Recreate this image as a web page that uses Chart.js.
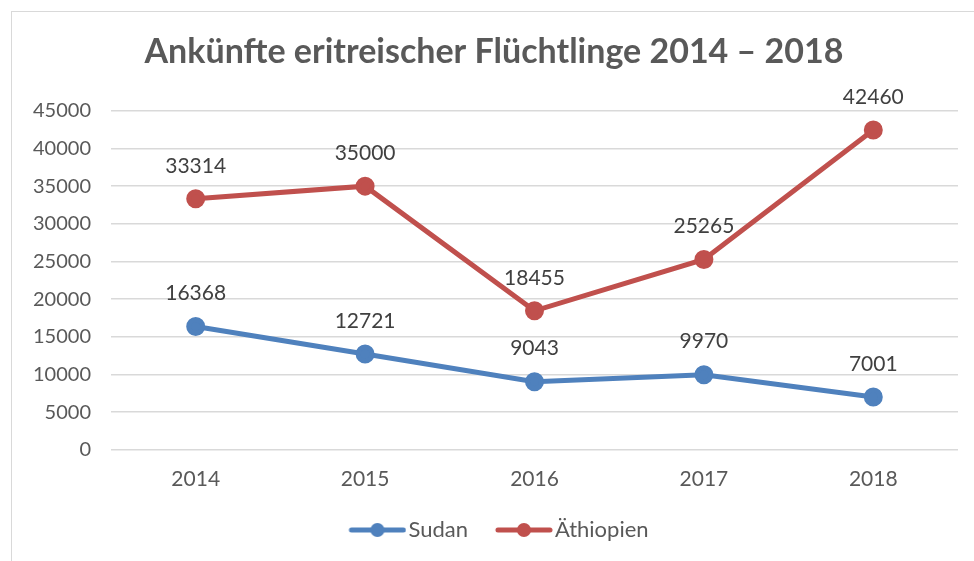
<!DOCTYPE html>
<html>
<head>
<meta charset="utf-8">
<script src="https://cdn.jsdelivr.net/npm/chart.js@4.4.1/dist/chart.umd.min.js"></script>
<style>
  html, body { margin: 0; padding: 0; background: #fff; overflow: hidden; }
  #frame { position: absolute; left: 11px; top: 11px; width: 1000px; height: 600px; border: 1px solid #d9d9d9; }
  #wrap { position: absolute; left: 0; top: 0; width: 974px; height: 561px; }
</style>
</head>
<body>
<div id="frame"></div>
<div id="wrap"><canvas id="chart" width="974" height="561"></canvas></div>
<script>
const years = ['2014', '2015', '2016', '2017', '2018'];
const sudan = [16368, 12721, 9043, 9970, 7001];
const aethiopien = [33314, 35000, 18455, 25265, 42460];
const titleText = 'Ankünfte eritreischer Flüchtlinge 2014 – 2018';

const BLUE = '#4f81bd';
const RED = '#c0504d';
const FONT = 'Lato, "Open Sans", sans-serif';

// Legendensymbol: Linie mit Punkt (nach rechts versetzt, damit der Text näher sitzt)
function legendIcon(color) {
    const c = document.createElement('canvas');
    c.width = 76;
    c.height = 16;
    const g = c.getContext('2d');
    g.strokeStyle = color;
    g.lineWidth = 5;
    g.lineCap = 'round';
    g.beginPath();
    g.moveTo(21, 8);
    g.lineTo(73, 8);
    g.stroke();
    g.fillStyle = color;
    g.beginPath();
    g.arc(47, 8, 7, 0, Math.PI * 2);
    g.fill();
    return c;
}

// Werte über den Punkten
const valueLabels = {
    id: 'valueLabels',
    afterDatasetsDraw(chart) {
        const ctx = chart.ctx;
        ctx.save();
        ctx.font = '21px ' + FONT;
        ctx.fillStyle = '#404040';
        ctx.textAlign = 'center';
        ctx.textBaseline = 'middle';
        chart.data.datasets.forEach((ds, i) => {
            chart.getDatasetMeta(i).data.forEach((pt, j) => {
                ctx.fillText(String(ds.data[j]), pt.x, pt.y - 33);
            });
        });
        ctx.restore();
    }
};

new Chart(document.getElementById('chart').getContext('2d'), {
    type: 'line',
    data: {
        labels: years,
        datasets: [
            {
                label: 'Sudan',
                data: sudan,
                borderColor: BLUE,
                backgroundColor: BLUE,
                borderWidth: 5,
                pointRadius: 7,
                fill: false,
                tension: 0
            },
            {
                label: 'Äthiopien',
                data: aethiopien,
                borderColor: RED,
                backgroundColor: RED,
                borderWidth: 5,
                pointRadius: 7,
                fill: false,
                tension: 0
            }
        ]
    },
    options: {
        responsive: false,
        animation: false,
        layout: {
            padding: { left: 30, right: 16, top: 0, bottom: 10 }
        },
        plugins: {
            title: {
                display: true,
                text: titleText,
                color: '#595959',
                font: { family: FONT, size: 34, weight: 'bold' },
                padding: { top: 32, bottom: 38 }
            },
            legend: {
                position: 'bottom',
                labels: {
                    usePointStyle: true,
                    pointStyleWidth: 58,
                    boxHeight: 16,
                    color: '#595959',
                    font: { family: FONT, size: 22 },
                    padding: 18,
                    generateLabels(chart) {
                        return chart.data.datasets.map((ds, i) => ({
                            text: ds.label,
                            pointStyle: legendIcon(ds.borderColor),
                            fillStyle: ds.borderColor,
                            strokeStyle: ds.borderColor,
                            lineWidth: 0,
                            fontColor: '#595959',
                            datasetIndex: i
                        }));
                    }
                }
            },
            tooltip: { enabled: false }
        },
        scales: {
            x: {
                offset: true,
                grid: { display: false },
                border: { display: false },
                ticks: {
                    color: '#595959',
                    font: { family: FONT, size: 21 },
                    padding: 9
                }
            },
            y: {
                min: 0,
                max: 45000,
                afterFit(scale) {
                    scale.width = 81;
                },
                grid: { color: '#d9d9d9', lineWidth: 1.5, drawTicks: false },
                border: { display: false },
                ticks: {
                    stepSize: 5000,
                    color: '#595959',
                    font: { family: FONT, size: 20 },
                    padding: 20,
                    callback: v => String(v)
                }
            }
        }
    },
    plugins: [valueLabels]
});
</script>
</body>
</html>
